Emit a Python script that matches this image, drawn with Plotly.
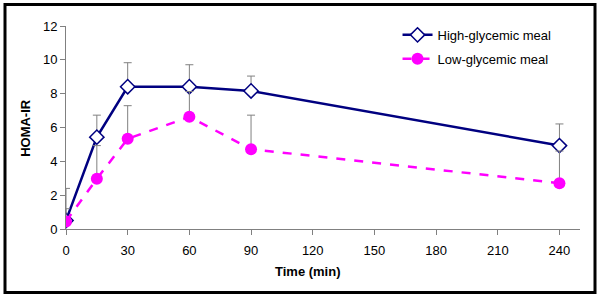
import plotly.graph_objects as go

time_min = [0, 15, 30, 60, 90, 240]
high_gi = [0.5, 5.43, 8.41, 8.41, 8.16, 4.93]
high_err = [1.9, 1.3, 1.42, 1.3, 0.88, 1.28]
low_gi = [0.45, 2.97, 5.33, 6.63, 4.72, 2.71]
low_err = [0.75, 1.96, 1.96, 1.5, 2.01, 1.9]
x_ticks = [0, 30, 60, 90, 120, 150, 180, 210, 240]
y_ticks = [0, 2, 4, 6, 8, 10, 12]

FONT = "Liberation Sans, Arial, sans-serif"

fig = go.Figure()
fig.add_trace(go.Scatter(
    x=time_min, y=high_gi, name="High-glycemic meal", mode="lines+markers",
    line=dict(color="#000080", width=2.5),
    marker=dict(symbol="diamond", size=11, color="white",
                line=dict(color="#000080", width=1.5)),
    error_y=dict(type="data", array=high_err, arrayminus=[0]*len(high_err),
                 symmetric=False, color="#808080", thickness=1, width=4),
    legendgroup="a",
))
fig.add_trace(go.Scatter(
    x=time_min, y=low_gi, name="Low-glycemic meal", mode="lines+markers",
    line=dict(color="#FF00FF", width=2.5, dash="dash"),
    marker=dict(symbol="circle", size=12, color="#FF00FF"),
    error_y=dict(type="data", array=low_err, arrayminus=[0]*len(low_err),
                 symmetric=False, color="#808080", thickness=1, width=4),
    legendgroup="b",
))

fig.update_layout(
    width=600, height=299,
    margin=dict(l=66, r=20, t=26, b=70),
    paper_bgcolor="white", plot_bgcolor="white",
    font=dict(family=FONT, size=13, color="black"),
    showlegend=True,
    legend=dict(x=0.645, y=1.03, xanchor="left", yanchor="top",
                bgcolor="rgba(0,0,0,0)", font=dict(size=13),
                tracegroupgap=4),
    xaxis=dict(range=[0, 250], tickvals=x_ticks, showgrid=False, zeroline=False,
               showline=True, linecolor="#808080", linewidth=1,
               ticks="outside", ticklen=5, tickcolor="#808080",
               ticklabelstandoff=4, automargin=False),
    yaxis=dict(range=[0, 12], tickvals=y_ticks, showgrid=False, zeroline=False,
               showline=True, linecolor="#808080", linewidth=1,
               ticks="outside", ticklen=5, tickcolor="#808080",
               automargin=False),
    annotations=[
        dict(text="<b>Time (min)</b>", xref="paper", yref="paper",
             x=(308 - 66) / 514, y=(229.3 - 271.5) / 203.3,
             xanchor="center", yanchor="middle", showarrow=False,
             font=dict(size=13)),
        dict(text="<b>HOMA-IR</b>", xref="paper", yref="paper",
             x=(26 - 66) / 514, y=(229.3 - 128) / 203.3,
             xanchor="center", yanchor="middle", showarrow=False,
             textangle=-90, font=dict(size=13)),
    ],
)

fig.add_shape(type="rect", xref="paper", yref="paper",
              x0=(5 - 66) / 514, x1=(595 - 66) / 514,
              y0=(229.3 - 293) / 203.3, y1=(229.3 - 4.5) / 203.3,
              line=dict(color="black", width=3), fillcolor="rgba(0,0,0,0)")

fig.write_html("out.html", config={"displayModeBar": False},
               post_script="document.body.style.margin='0px';document.body.style.padding='0px';")
